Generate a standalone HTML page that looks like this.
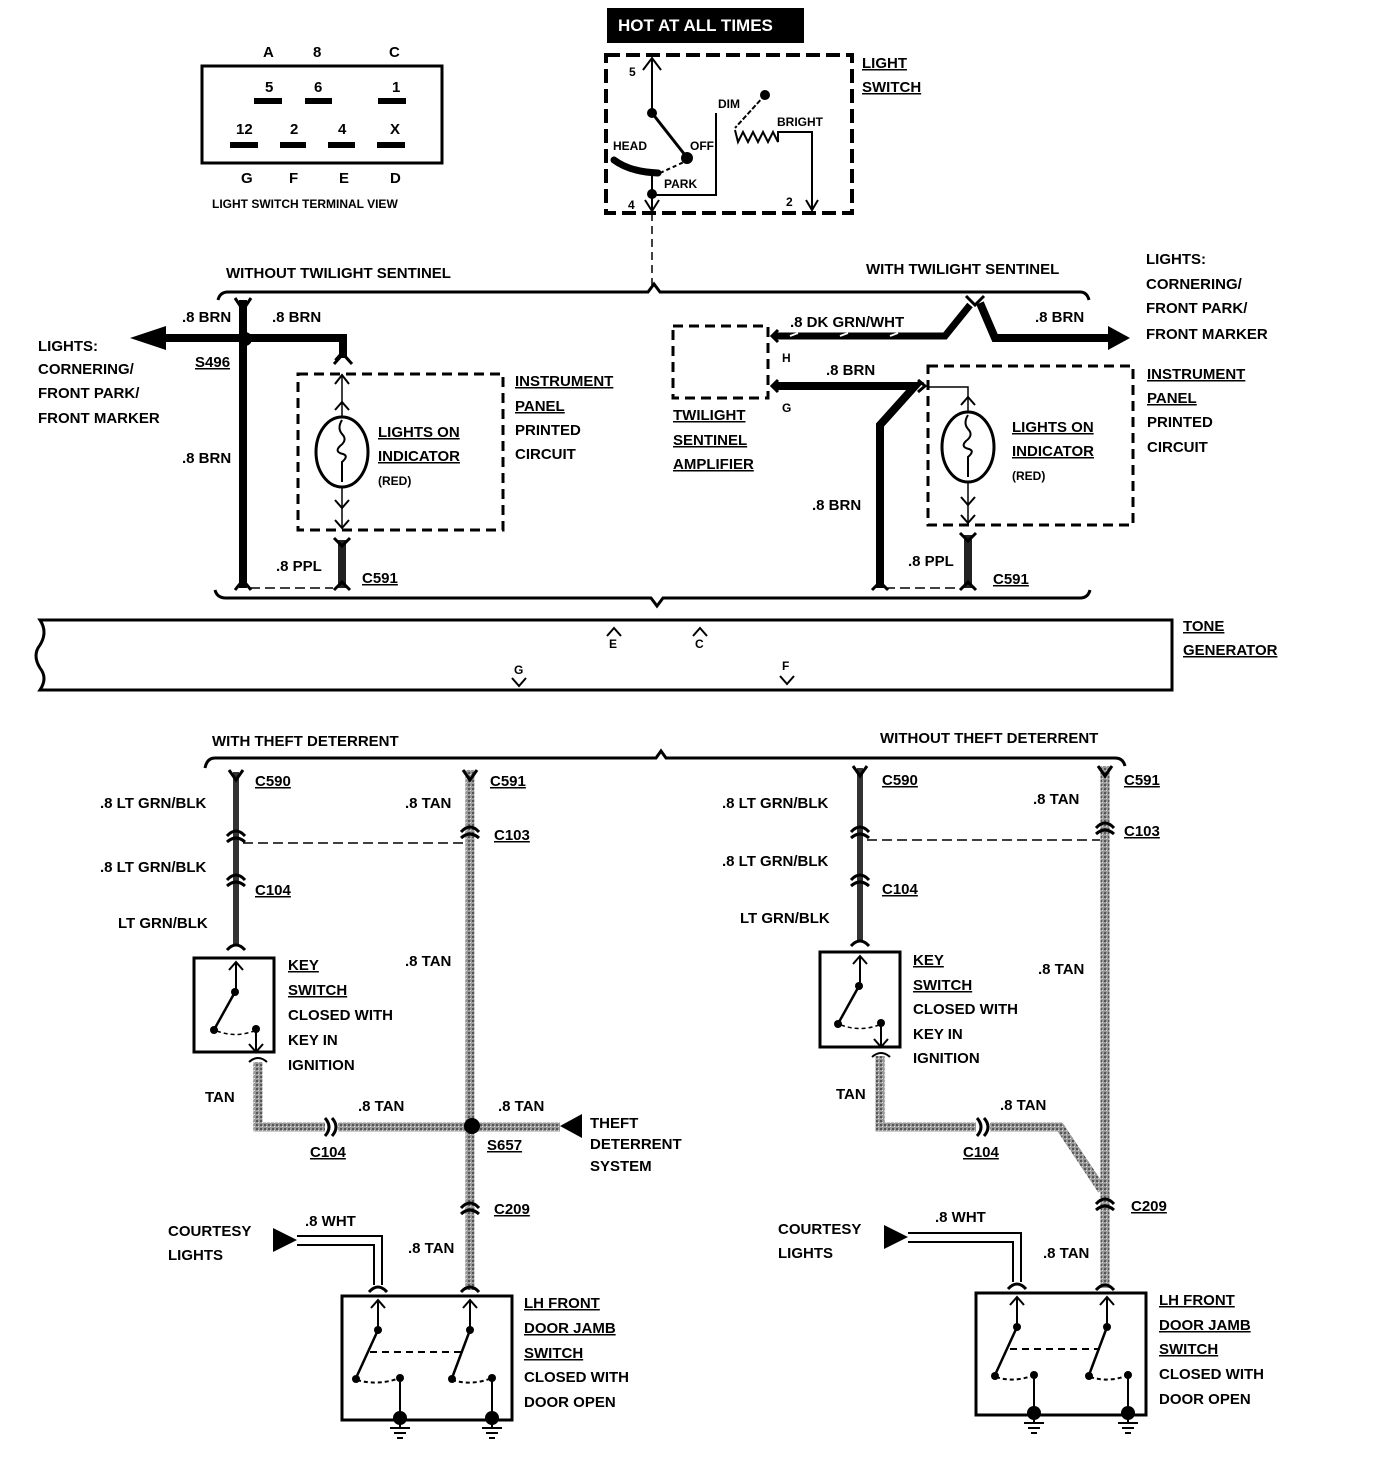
<!DOCTYPE html>
<html><head><meta charset="utf-8"><style>
html,body{margin:0;padding:0;background:#fff}
svg{display:block}
text{font-family:"Liberation Sans",sans-serif;font-weight:bold;font-size:15px;fill:#000}
.s{font-size:12px}
.u{text-decoration:underline}
</style></head><body>
<svg width="1400" height="1472" viewBox="0 0 1400 1472" xmlns="http://www.w3.org/2000/svg">
<defs>
<pattern id="tan" width="4" height="4" patternUnits="userSpaceOnUse"><rect width="4" height="4" fill="#9a9a9a"/><rect width="2" height="2" fill="#555"/><rect x="2" y="2" width="1" height="1" fill="#ddd"/></pattern>
</defs>
<!-- Terminal view -->
<rect x="202" y="66" width="240" height="97" fill="none" stroke="#000" stroke-width="3"/>
<text x="263" y="57">A</text><text x="313" y="57">8</text><text x="389" y="57">C</text>
<text x="265" y="92">5</text><text x="314" y="92">6</text><text x="392" y="92">1</text>
<rect x="254" y="98" width="28" height="6"/><rect x="305" y="98" width="27" height="6"/><rect x="378" y="98" width="28" height="6"/>
<text x="236" y="134">12</text><text x="290" y="134">2</text><text x="338" y="134">4</text><text x="390" y="134">X</text>
<rect x="230" y="142" width="28" height="6"/><rect x="280" y="142" width="26" height="6"/><rect x="328" y="142" width="27" height="6"/><rect x="377" y="142" width="28" height="6"/>
<text x="241" y="183">G</text><text x="289" y="183">F</text><text x="339" y="183">E</text><text x="390" y="183">D</text>
<text x="212" y="208" class="s">LIGHT SWITCH TERMINAL VIEW</text>

<!-- Hot at all times -->
<rect x="607" y="8" width="197" height="35" fill="#000"/>
<text x="618" y="31" style="fill:#fff;font-size:17px">HOT AT ALL TIMES</text>
<rect x="606" y="55" width="246" height="158" fill="none" stroke="#000" stroke-width="4" stroke-dasharray="14,6"/>
<text x="862" y="68" class="u">LIGHT</text><text x="862" y="92" class="u">SWITCH</text>
<line x1="652" y1="58" x2="652" y2="113" stroke="#000" stroke-width="2"/>
<path d="M643 70 L652 58 L661 70" fill="none" stroke="#000" stroke-width="2"/>
<text x="629" y="76" class="s">5</text>
<circle cx="652" cy="113" r="5"/>
<line x1="652" y1="113" x2="685" y2="155" stroke="#000" stroke-width="3"/>
<circle cx="687" cy="158" r="6"/>
<text x="613" y="150" class="s">HEAD</text><text x="690" y="150" class="s">OFF</text>
<path d="M614 160 Q630 172 658 173" fill="none" stroke="#000" stroke-width="7" stroke-linecap="round"/>
<path d="M660 173 L684 162" stroke="#000" stroke-width="2" stroke-dasharray="4,3"/>
<text x="664" y="188" class="s">PARK</text>
<line x1="652" y1="173" x2="652" y2="212" stroke="#000" stroke-width="2"/>
<circle cx="652" cy="194" r="5"/>
<path d="M652 195 H716 V113" fill="none" stroke="#000" stroke-width="2"/>
<path d="M645 200 L652 211 L659 200" fill="none" stroke="#000" stroke-width="2"/>
<text x="628" y="209" class="s">4</text>
<text x="718" y="108" class="s">DIM</text>
<circle cx="765" cy="95" r="5"/>
<path d="M765 95 L735 128" stroke="#000" stroke-width="2" stroke-dasharray="5,2"/>
<path d="M735 130 l3 12 l5 -10 l5 10 l5 -10 l5 10 l5 -10 l5 10 l5 -10 l5 10 V132 H812 V210" fill="none" stroke="#000" stroke-width="2"/>
<path d="M806 200 L812 210 L818 200" fill="none" stroke="#000" stroke-width="2"/>
<text x="777" y="126" class="s">BRIGHT</text>
<text x="786" y="206" class="s">2</text>
<line x1="652" y1="213" x2="652" y2="285" stroke="#000" stroke-width="1.5" stroke-dasharray="8,5"/>

<!-- Brace top -->
<text x="226" y="278">WITHOUT TWILIGHT SENTINEL</text>
<text x="866" y="274">WITH TWILIGHT SENTINEL</text>
<path d="M218 300 Q220 292 228 292 H648 L654 284 L660 292 H1080 Q1087 292 1089 300" fill="none" stroke="#000" stroke-width="3"/>
<text x="1146" y="264">LIGHTS:</text><text x="1146" y="289">CORNERING/</text><text x="1146" y="313">FRONT PARK/</text><text x="1146" y="339">FRONT MARKER</text>

<!-- Left section -->
<line x1="243" y1="300" x2="243" y2="588" stroke="#000" stroke-width="8"/>
<path d="M235 298 L243 310 L251 298" fill="none" stroke="#000" stroke-width="3"/>
<path d="M235 590 L243 580 L251 590" fill="none" stroke="#000" stroke-width="3"/>
<path d="M165 338 H343 V358" fill="none" stroke="#000" stroke-width="8"/>
<path d="M130 338 L166 326 L166 350 Z"/>
<path d="M334 364 L343 354 L352 364" fill="none" stroke="#000" stroke-width="3"/>
<circle cx="245" cy="339" r="7"/>
<text x="182" y="322">.8 BRN</text><text x="272" y="322">.8 BRN</text>
<text x="195" y="367" class="u">S496</text>
<text x="38" y="351">LIGHTS:</text><text x="38" y="374">CORNERING/</text><text x="38" y="398">FRONT PARK/</text><text x="38" y="423">FRONT MARKER</text>
<text x="182" y="463">.8 BRN</text>
<rect x="298" y="374" width="205" height="156" fill="none" stroke="#000" stroke-width="3" stroke-dasharray="10,6"/>
<line x1="342" y1="375" x2="342" y2="528" stroke="#000" stroke-width="1.5"/>
<path d="M335 384 L342 375 L349 384 M335 360 L342 352 L349 360" fill="none" stroke="#000" stroke-width="2"/>
<path d="M335 410 L342 402 L349 410 M335 500 L342 508 L349 500 M335 520 L342 528 L349 520" fill="none" stroke="#000" stroke-width="2"/>
<ellipse cx="342" cy="452" rx="26" ry="35" fill="#fff" stroke="#000" stroke-width="3"/>
<path d="M342 420 q-5 8 0 14 q6 6 -2 12 q-6 6 3 8 q6 2 -1 8 v20" fill="none" stroke="#000" stroke-width="2"/>
<text x="378" y="437" class="u">LIGHTS ON</text><text x="378" y="461" class="u">INDICATOR</text><text x="378" y="485" class="s">(RED)</text>
<text x="515" y="386" class="u">INSTRUMENT</text><text x="515" y="411" class="u">PANEL</text><text x="515" y="435">PRINTED</text><text x="515" y="459">CIRCUIT</text>
<line x1="342" y1="540" x2="342" y2="588" stroke="#222" stroke-width="8"/>
<path d="M334 538 L342 546 L350 538 M334 590 L342 582 L350 590" fill="none" stroke="#000" stroke-width="3"/>
<line x1="250" y1="588" x2="333" y2="588" stroke="#000" stroke-width="1.5" stroke-dasharray="10,5"/>
<text x="276" y="571">.8 PPL</text>
<text x="362" y="583" class="u">C591</text>

<!-- Right section -->
<rect x="673" y="326" width="95" height="72" fill="none" stroke="#000" stroke-width="3" stroke-dasharray="10,6"/>
<text x="673" y="420" class="u">TWILIGHT</text><text x="673" y="445" class="u">SENTINEL</text><text x="673" y="469" class="u">AMPLIFIER</text>
<text x="782" y="362" class="s">H</text><text x="782" y="412" class="s">G</text>
<path d="M774 336 H945 L970 305" fill="none" stroke="#000" stroke-width="7"/>
<path d="M790 336 l8 -3 M840 336 l8 -3 M890 336 l8 -3" stroke="#fff" stroke-width="2"/>
<path d="M980 303 L995 338 H1110" fill="none" stroke="#000" stroke-width="8"/>
<path d="M1108 326 L1130 338 L1108 350 Z"/>
<path d="M966 296 L975 305 L984 296" fill="none" stroke="#000" stroke-width="3"/>
<path d="M778 330 L772 336 L778 342 M778 380 L772 386 L778 392" fill="none" stroke="#000" stroke-width="3"/>
<text x="790" y="327">.8 DK GRN/WHT</text><text x="1035" y="322">.8 BRN</text>
<path d="M774 386 H915 L880 425 V588" fill="none" stroke="#000" stroke-width="8"/>
<text x="826" y="375">.8 BRN</text><text x="812" y="510">.8 BRN</text>
<path d="M872 590 L880 582 L888 590" fill="none" stroke="#000" stroke-width="3"/>
<rect x="928" y="366" width="205" height="159" fill="none" stroke="#000" stroke-width="3" stroke-dasharray="10,6"/>
<path d="M918 380 L925 386 L918 392" fill="none" stroke="#000" stroke-width="3"/>
<path d="M928 387 H968 V522" fill="none" stroke="#000" stroke-width="1.5"/>
<path d="M961 405 L968 397 L975 405 M961 497 L968 505 L975 497 M961 515 L968 523 L975 515" fill="none" stroke="#000" stroke-width="2"/>
<ellipse cx="968" cy="447" rx="26" ry="35" fill="#fff" stroke="#000" stroke-width="3"/>
<path d="M968 415 q-5 8 0 14 q6 6 -2 12 q-6 6 3 8 q6 2 -1 8 v20" fill="none" stroke="#000" stroke-width="2"/>
<text x="1012" y="432" class="u">LIGHTS ON</text><text x="1012" y="456" class="u">INDICATOR</text><text x="1012" y="480" class="s">(RED)</text>
<text x="1147" y="379" class="u">INSTRUMENT</text><text x="1147" y="403" class="u">PANEL</text><text x="1147" y="427">PRINTED</text><text x="1147" y="452">CIRCUIT</text>
<line x1="968" y1="535" x2="968" y2="588" stroke="#222" stroke-width="8"/>
<path d="M960 533 L968 541 L976 533 M960 590 L968 582 L976 590" fill="none" stroke="#000" stroke-width="3"/>
<line x1="885" y1="588" x2="960" y2="588" stroke="#000" stroke-width="1.5" stroke-dasharray="10,5"/>
<text x="908" y="566">.8 PPL</text><text x="993" y="584" class="u">C591</text>
<path d="M215 590 Q217 598 226 598 H651 L657 606 L663 598 H1080 Q1088 598 1090 590" fill="none" stroke="#000" stroke-width="3"/>

<!-- Tone generator -->
<path d="M40 620 H1172 V690 H40 Q48 678 40 668 Q32 655 40 645 Q48 632 40 620 Z" fill="none" stroke="#000" stroke-width="3"/>
<text x="1183" y="631" class="u">TONE</text><text x="1183" y="655" class="u">GENERATOR</text>
<path d="M607 636 L614 628 L621 636 M693 636 L700 628 L707 636" fill="none" stroke="#000" stroke-width="2"/>
<text x="609" y="648" class="s">E</text><text x="695" y="648" class="s">C</text>
<path d="M512 678 L519 686 L526 678 M780 676 L787 684 L794 676" fill="none" stroke="#000" stroke-width="2"/>
<text x="514" y="674" class="s">G</text><text x="782" y="670" class="s">F</text>

<!-- Bottom brace -->
<text x="212" y="746">WITH THEFT DETERRENT</text><text x="880" y="743">WITHOUT THEFT DETERRENT</text>
<path d="M205 768 Q207 758 215 758 H656 L661 751 L666 758 H1115 Q1123 758 1125 766" fill="none" stroke="#000" stroke-width="3"/>

<!-- Left bottom -->
<line x1="236" y1="772" x2="236" y2="945" stroke="#333" stroke-width="6"/>
<path d="M229 770 L236 780 L243 770" fill="none" stroke="#000" stroke-width="3"/>
<path d="M227 836 Q236 826 245 836 M227 842 Q236 834 245 842 M227 880 Q236 870 245 880 M227 886 Q236 878 245 886 M227 950 Q236 940 245 950" fill="none" stroke="#000" stroke-width="3"/>
<text x="255" y="786" class="u">C590</text><text x="100" y="808">.8 LT GRN/BLK</text>
<text x="100" y="872">.8 LT GRN/BLK</text><text x="255" y="895" class="u">C104</text><text x="118" y="928">LT GRN/BLK</text>
<line x1="243" y1="843" x2="466" y2="843" stroke="#000" stroke-width="1.5" stroke-dasharray="10,5"/>
<rect x="194" y="958" width="80" height="94" fill="none" stroke="#000" stroke-width="3"/>
<path d="M236 990 V962 M229 970 L236 962 L243 970" fill="none" stroke="#000" stroke-width="2"/>
<circle cx="235" cy="992" r="4"/>
<line x1="235" y1="992" x2="215" y2="1028" stroke="#000" stroke-width="2.5"/>
<circle cx="214" cy="1030" r="4"/><circle cx="256" cy="1029" r="4"/>
<path d="M217 1031 Q235 1038 254 1031" fill="none" stroke="#000" stroke-width="1.5" stroke-dasharray="4,3"/>
<path d="M256 1030 V1052 M249 1044 L256 1052 L263 1044 M249 1062 Q258 1054 267 1062" fill="none" stroke="#000" stroke-width="2"/>
<text x="288" y="970" class="u">KEY</text><text x="288" y="995" class="u">SWITCH</text><text x="288" y="1020">CLOSED WITH</text><text x="288" y="1045">KEY IN</text><text x="288" y="1070">IGNITION</text>
<path d="M258 1062 V1127 H325 M338 1127 H560" fill="none" stroke="url(#tan)" stroke-width="9"/>
<path d="M325 1118 Q333 1127 325 1136 M332 1118 Q340 1127 332 1136" fill="none" stroke="#000" stroke-width="3"/>
<text x="205" y="1102">TAN</text><text x="358" y="1111">.8 TAN</text><text x="498" y="1111">.8 TAN</text>
<text x="310" y="1157" class="u">C104</text><text x="487" y="1150" class="u">S657</text>
<line x1="470" y1="770" x2="470" y2="1290" stroke="url(#tan)" stroke-width="9"/>
<path d="M463 770 L470 780 L477 770 M461 832 Q470 822 479 832 M461 838 Q470 830 479 838 M461 1208 Q470 1198 479 1208 M461 1214 Q470 1206 479 1214 M461 1292 Q470 1282 479 1292" fill="none" stroke="#000" stroke-width="3"/>
<circle cx="472" cy="1126" r="8"/>
<text x="490" y="786" class="u">C591</text><text x="405" y="808">.8 TAN</text><text x="494" y="840" class="u">C103</text>
<text x="405" y="966">.8 TAN</text><text x="494" y="1214" class="u">C209</text><text x="408" y="1253">.8 TAN</text>
<path d="M560 1126 L582 1114 L582 1138 Z"/>
<text x="590" y="1128">THEFT</text><text x="590" y="1149">DETERRENT</text><text x="590" y="1171">SYSTEM</text>
<text x="168" y="1236">COURTESY</text><text x="168" y="1260">LIGHTS</text>
<path d="M273 1228 L297 1240 L273 1252 Z"/>
<path d="M297 1236 H382 V1285 M297 1245 H374 V1285" fill="none" stroke="#000" stroke-width="2"/>
<text x="305" y="1226">.8 WHT</text>
<path d="M369 1292 Q378 1282 387 1292" fill="none" stroke="#000" stroke-width="3"/>
<rect x="342" y="1296" width="170" height="124" fill="none" stroke="#000" stroke-width="3"/>
<g fill="none" stroke="#000" stroke-width="2">
<path d="M378 1300 V1330 M371 1308 L378 1300 L385 1308 M470 1300 V1330 M463 1308 L470 1300 L477 1308"/>
<path d="M378 1330 L356 1378 M470 1330 L452 1378" stroke-width="2.5"/>
<path d="M370 1352 H462" stroke-dasharray="7,5"/>
<path d="M357 1380 Q378 1386 400 1378 M452 1380 Q472 1386 492 1378" stroke-dasharray="4,3"/>
<path d="M400 1378 V1415 M492 1378 V1415"/>
<path d="M390 1428 h20 M394 1433 h12 M397 1438 h6 M482 1428 h20 M486 1433 h12 M489 1438 h6 M400 1418 V1428 M492 1418 V1428"/>
</g>
<circle cx="378" cy="1330" r="4"/><circle cx="356" cy="1379" r="4"/><circle cx="400" cy="1378" r="4"/>
<circle cx="470" cy="1330" r="4"/><circle cx="452" cy="1379" r="4"/><circle cx="492" cy="1378" r="4"/>
<circle cx="400" cy="1418" r="7"/><circle cx="492" cy="1418" r="7"/>
<text x="524" y="1308" class="u">LH FRONT</text><text x="524" y="1333" class="u">DOOR JAMB</text><text x="524" y="1358" class="u">SWITCH</text><text x="524" y="1382">CLOSED WITH</text><text x="524" y="1407">DOOR OPEN</text>

<!-- Right bottom -->
<line x1="860" y1="768" x2="860" y2="940" stroke="#333" stroke-width="6"/>
<path d="M853 766 L860 776 L867 766" fill="none" stroke="#000" stroke-width="3"/>
<path d="M851 832 Q860 822 869 832 M851 838 Q860 830 869 838 M851 880 Q860 870 869 880 M851 886 Q860 878 869 886 M851 946 Q860 936 869 946" fill="none" stroke="#000" stroke-width="3"/>
<text x="882" y="785" class="u">C590</text><text x="722" y="808">.8 LT GRN/BLK</text>
<text x="722" y="866">.8 LT GRN/BLK</text><text x="882" y="894" class="u">C104</text><text x="740" y="923">LT GRN/BLK</text>
<line x1="867" y1="840" x2="1100" y2="840" stroke="#000" stroke-width="1.5" stroke-dasharray="10,5"/>
<rect x="820" y="952" width="80" height="95" fill="none" stroke="#000" stroke-width="3"/>
<path d="M860 984 V956 M853 964 L860 956 L867 964" fill="none" stroke="#000" stroke-width="2"/>
<circle cx="859" cy="986" r="4"/>
<line x1="859" y1="986" x2="839" y2="1022" stroke="#000" stroke-width="2.5"/>
<circle cx="838" cy="1024" r="4"/><circle cx="881" cy="1023" r="4"/>
<path d="M841 1025 Q860 1032 879 1025" fill="none" stroke="#000" stroke-width="1.5" stroke-dasharray="4,3"/>
<path d="M881 1024 V1047 M874 1039 L881 1047 L888 1039 M872 1057 Q881 1049 890 1057" fill="none" stroke="#000" stroke-width="2"/>
<text x="913" y="965" class="u">KEY</text><text x="913" y="990" class="u">SWITCH</text><text x="913" y="1014">CLOSED WITH</text><text x="913" y="1039">KEY IN</text><text x="913" y="1063">IGNITION</text>
<path d="M880 1056 V1127 H976 M990 1127 H1060 L1102 1190" fill="none" stroke="url(#tan)" stroke-width="9"/>
<path d="M977 1118 Q985 1127 977 1136 M984 1118 Q992 1127 984 1136" fill="none" stroke="#000" stroke-width="3"/>
<text x="836" y="1099">TAN</text><text x="1000" y="1110">.8 TAN</text><text x="963" y="1157" class="u">C104</text>
<line x1="1105" y1="766" x2="1105" y2="1288" stroke="url(#tan)" stroke-width="9"/>
<path d="M1098 766 L1105 776 L1112 766 M1096 828 Q1105 818 1114 828 M1096 834 Q1105 826 1114 834 M1096 1204 Q1105 1194 1114 1204 M1096 1210 Q1105 1202 1114 1210 M1096 1290 Q1105 1280 1114 1290" fill="none" stroke="#000" stroke-width="3"/>
<text x="1124" y="785" class="u">C591</text><text x="1033" y="804">.8 TAN</text><text x="1124" y="836" class="u">C103</text>
<text x="1038" y="974">.8 TAN</text><text x="1131" y="1211" class="u">C209</text><text x="1043" y="1258">.8 TAN</text>
<text x="778" y="1234">COURTESY</text><text x="778" y="1258">LIGHTS</text>
<path d="M884 1225 L908 1237 L884 1249 Z"/>
<path d="M908 1233 H1021 V1282 M908 1242 H1013 V1282" fill="none" stroke="#000" stroke-width="2"/>
<text x="935" y="1222">.8 WHT</text>
<path d="M1008 1289 Q1017 1279 1026 1289" fill="none" stroke="#000" stroke-width="3"/>
<rect x="976" y="1293" width="170" height="122" fill="none" stroke="#000" stroke-width="3"/>
<g fill="none" stroke="#000" stroke-width="2">
<path d="M1017 1297 V1327 M1010 1305 L1017 1297 L1024 1305 M1107 1297 V1327 M1100 1305 L1107 1297 L1114 1305"/>
<path d="M1017 1327 L995 1375 M1107 1327 L1089 1375" stroke-width="2.5"/>
<path d="M1010 1349 H1100" stroke-dasharray="7,5"/>
<path d="M996 1377 Q1015 1383 1034 1375 M1090 1377 Q1110 1383 1128 1375" stroke-dasharray="4,3"/>
<path d="M1034 1375 V1410 M1128 1375 V1410"/>
<path d="M1024 1423 h20 M1028 1428 h12 M1031 1433 h6 M1118 1423 h20 M1122 1428 h12 M1125 1433 h6 M1034 1413 V1423 M1128 1413 V1423"/>
</g>
<circle cx="1017" cy="1327" r="4"/><circle cx="995" cy="1376" r="4"/><circle cx="1034" cy="1375" r="4"/>
<circle cx="1107" cy="1327" r="4"/><circle cx="1089" cy="1376" r="4"/><circle cx="1128" cy="1375" r="4"/>
<circle cx="1034" cy="1413" r="7"/><circle cx="1128" cy="1413" r="7"/>
<text x="1159" y="1305" class="u">LH FRONT</text><text x="1159" y="1330" class="u">DOOR JAMB</text><text x="1159" y="1354" class="u">SWITCH</text><text x="1159" y="1379">CLOSED WITH</text><text x="1159" y="1404">DOOR OPEN</text>
</svg>
</body></html>
